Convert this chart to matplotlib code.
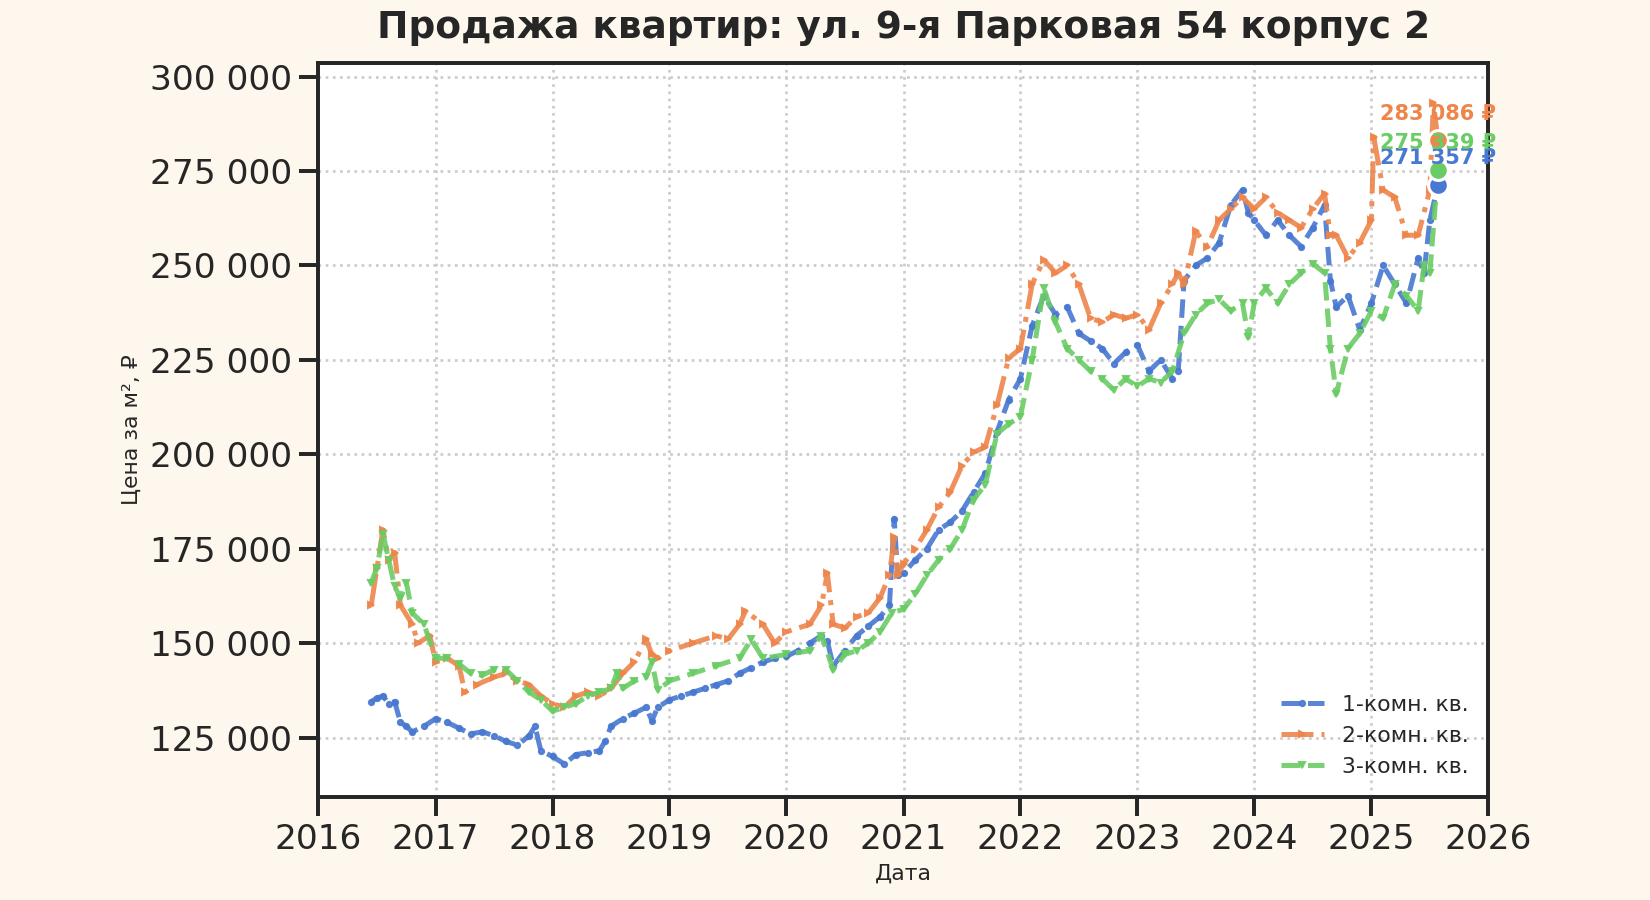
import numpy as np
import pandas as pd
import matplotlib
matplotlib.use("Agg")
import matplotlib.pyplot as plt
import matplotlib.ticker as mticker
import seaborn as sns

# ---------------- data (decimal years, price per m2) ----------------
t1 = [2016.45, 2016.50, 2016.55, 2016.60, 2016.65, 2016.70, 2016.75, 2016.80, 2016.90, 2017.00,
      2017.10, 2017.20, 2017.30, 2017.40, 2017.50, 2017.60, 2017.70, 2017.80, 2017.85, 2017.90,
      2018.00, 2018.10, 2018.20, 2018.30, 2018.40, 2018.45, 2018.50, 2018.60, 2018.70, 2018.80,
      2018.85, 2018.90, 2019.00, 2019.10, 2019.20, 2019.30, 2019.40, 2019.50, 2019.60, 2019.70,
      2019.80, 2019.90, 2020.00, 2020.10, 2020.20, 2020.30, 2020.35, 2020.40, 2020.50, 2020.60,
      2020.70, 2020.80, 2020.88, 2020.92, 2020.95, 2021.00, 2021.10, 2021.20, 2021.30, 2021.40,
      2021.50, 2021.60, 2021.70, 2021.80, 2021.90, 2022.00, 2022.10, 2022.20, 2022.30, 2022.40,
      2022.50, 2022.60, 2022.70, 2022.80, 2022.90, 2023.00, 2023.10, 2023.20, 2023.30, 2023.35,
      2023.40, 2023.50, 2023.60, 2023.70, 2023.80, 2023.90, 2023.95, 2024.00, 2024.10, 2024.20,
      2024.30, 2024.40, 2024.50, 2024.60, 2024.65, 2024.70, 2024.80, 2024.90, 2025.00, 2025.10,
      2025.20, 2025.30, 2025.40, 2025.45, 2025.50, 2025.57]
v1 = [134500, 135500, 136000, 134000, 134500, 129000, 128000, 126500, 128000, 130000,
      129000, 127500, 126000, 126500, 125500, 124000, 123000, 125500, 128000, 121500,
      120000, 118000, 120500, 121000, 121500, 124000, 128000, 130000, 131500, 133000,
      129500, 133000, 135000, 136000, 137000, 138000, 139000, 140000, 142000, 143500,
      145000, 146000, 146500, 148000, 150000, 152000, 150500, 144000, 148000, 152000,
      154500, 157000, 160000, 183000, 168000, 168500, 172000, 175000, 180000, 182000,
      185000, 190000, 195000, 206000, 214500, 220000, 234000, 242000, 237000, 239000,
      232000, 230000, 228000, 224000, 227000, 229000, 222000, 225000, 220000, 222000,
      246000, 250000, 252000, 256000, 266000, 270000, 264000, 262000, 258000, 262000,
      258000, 255000, 260000, 266000, 246000, 239000, 242000, 233000, 240000, 250000,
      245000, 240000, 252000, 248000, 262000, 271357]

t2 = [2016.45, 2016.50, 2016.55, 2016.60, 2016.65, 2016.70, 2016.80, 2016.85, 2016.95, 2017.00,
      2017.10, 2017.20, 2017.25, 2017.35, 2017.50, 2017.60, 2017.70, 2017.80, 2017.90, 2018.00,
      2018.10, 2018.20, 2018.30, 2018.40, 2018.50, 2018.60, 2018.70, 2018.80, 2018.85, 2018.90,
      2019.00, 2019.20, 2019.40, 2019.50, 2019.60, 2019.65, 2019.80, 2019.90, 2020.00, 2020.20,
      2020.30, 2020.35, 2020.40, 2020.50, 2020.60, 2020.70, 2020.80, 2020.88, 2020.92, 2020.95,
      2021.00, 2021.10, 2021.20, 2021.30, 2021.40, 2021.50, 2021.60, 2021.70, 2021.80, 2021.90,
      2022.00, 2022.10, 2022.20, 2022.30, 2022.40, 2022.50, 2022.60, 2022.70, 2022.80, 2022.90,
      2023.00, 2023.10, 2023.20, 2023.30, 2023.35, 2023.40, 2023.50, 2023.60, 2023.70, 2023.80,
      2023.90, 2024.00, 2024.10, 2024.20, 2024.30, 2024.40, 2024.50, 2024.60, 2024.65, 2024.70,
      2024.80, 2024.90, 2025.00, 2025.02, 2025.10, 2025.20, 2025.30, 2025.40, 2025.50, 2025.53,
      2025.57]
v2 = [160000, 170000, 180000, 172000, 174000, 160000, 155000, 150000, 152000, 145000,
      146000, 144000, 137000, 139000, 141000, 142000, 140000, 139000, 136000, 134000,
      133000, 136000, 137000, 136000, 138000, 142000, 145000, 151000, 147000, 146000,
      148000, 150000, 152000, 151000, 155000, 158500, 155000, 150000, 153000, 155000,
      160000, 168500, 155000, 154000, 157000, 158000, 162000, 168000, 178000, 168000,
      171000, 175000, 180000, 186000, 190000, 197000, 200500, 202000, 213000, 225500,
      228000, 245000, 251500, 248000, 250000, 245000, 236000, 235000, 237000, 236000,
      237000, 233000, 240000, 245000, 248000, 245000, 259000, 255000, 262000, 265000,
      268000, 265000, 268000, 264000, 262000, 260000, 265000, 269000, 258000, 258000,
      252000, 256000, 262000, 284000, 270000, 268000, 258000, 258000, 270000, 293000,
      283086]

t3 = [2016.45, 2016.50, 2016.55, 2016.60, 2016.65, 2016.70, 2016.75, 2016.80, 2016.90, 2017.00,
      2017.10, 2017.20, 2017.30, 2017.40, 2017.50, 2017.60, 2017.70, 2017.80, 2017.90, 2018.00,
      2018.10, 2018.20, 2018.30, 2018.40, 2018.50, 2018.55, 2018.60, 2018.70, 2018.80, 2018.85,
      2018.90, 2019.00, 2019.20, 2019.40, 2019.60, 2019.70, 2019.80, 2020.00, 2020.20, 2020.30,
      2020.40, 2020.50, 2020.60, 2020.70, 2020.80, 2020.90, 2021.00, 2021.10, 2021.20, 2021.30,
      2021.40, 2021.50, 2021.60, 2021.70, 2021.80, 2021.90, 2022.00, 2022.10, 2022.20, 2022.30,
      2022.40, 2022.50, 2022.60, 2022.70, 2022.80, 2022.90, 2023.00, 2023.10, 2023.20, 2023.30,
      2023.40, 2023.50, 2023.60, 2023.70, 2023.80, 2023.90, 2023.95, 2024.00, 2024.10, 2024.20,
      2024.30, 2024.40, 2024.50, 2024.60, 2024.65, 2024.70, 2024.80, 2024.90, 2025.00, 2025.10,
      2025.20, 2025.30, 2025.40, 2025.45, 2025.50, 2025.57]
v3 = [166000, 170000, 179000, 172000, 165000, 162000, 166000, 158000, 155000, 146000,
      146000, 144500, 142000, 141500, 143000, 143000, 140000, 137000, 135000, 132000,
      133000, 134000, 136000, 137000, 138000, 142000, 138000, 140000, 141000, 145000,
      137500, 140000, 142000, 144000, 146000, 151000, 146000, 147000, 148000, 152000,
      143000, 147000, 148000, 150000, 153000, 158000, 159000, 163000, 168000, 172000,
      175000, 180000, 188000, 192000, 205500, 208000, 210000, 225000, 244000, 235000,
      228000, 225000, 222000, 220000, 217000, 220000, 218000, 220000, 219000, 222000,
      232000, 237000, 240000, 241000, 238000, 240000, 231000, 240000, 244000, 240000,
      245000, 248000, 250500, 248000, 228000, 216000, 228000, 232000, 238000, 236000,
      245000, 242000, 238000, 250000, 248000, 275339]

labels = ["1-комн. кв.", "2-комн. кв.", "3-комн. кв."]
title = "Продажа квартир: ул. 9-я Парковая 54 корпус 2"
xlabel = "Дата"
ylabel = "Цена за м², ₽"
year_ticks = list(range(2016, 2027))
y_ticks = [125000, 150000, 175000, 200000, 225000, 250000, 275000, 300000]


def to_dates(ty):
    ty = np.asarray(ty, dtype=float)
    years = np.floor(ty).astype(int)
    frac = ty - years
    out = []
    for y, f in zip(years, frac):
        start = pd.Timestamp(year=int(y), month=1, day=1)
        end = pd.Timestamp(year=int(y) + 1, month=1, day=1)
        out.append(start + (end - start) * float(f))
    return pd.to_datetime(out)


# ---------------- style ----------------
sns.set_theme(style="ticks", context="talk")
plt.rcParams['font.family'] = ['DejaVu Sans']
pal = sns.color_palette("muted")
colors = [pal[0], pal[1], pal[2]]
bg = "#fef7ee"

fig = plt.figure(figsize=(11, 6), dpi=150, facecolor=bg)
ax = fig.add_axes([0.193, 0.115, 0.709, 0.815])
ax.set_facecolor("white")

series = [(t1, v1, "--", "o"), (t2, v2, "-.", ">"), (t3, v3, "--", "v")]
for (tt, vv, ls, mk), lab, c in zip(series, labels, colors):
    d = to_dates(tt)
    ax.plot(d, vv, linestyle=ls, marker=mk, markersize=2.5, linewidth=2.4,
            color=c, alpha=0.9, label=lab)
    ax.scatter([d[-1]], [vv[-1]], s=90, color=c, edgecolor="white",
               linewidth=1.5, zorder=10)
    txt = f"{vv[-1]:,}".replace(",", " ") + " ₽"
    ax.annotate(txt, (d[-1], vv[-1]), xytext=(0, 8), textcoords="offset points",
                ha="center", va="bottom", fontsize=10, fontweight="bold",
                color=c, zorder=11)

ax.set_xlim(pd.Timestamp("2016-01-01"), pd.Timestamp("2026-01-01"))
ax.set_ylim(109400, 303600)
ax.set_xticks([pd.Timestamp(year=y, month=1, day=1) for y in year_ticks])
ax.set_xticklabels([str(y) for y in year_ticks])
ax.set_yticks(y_ticks)
ax.yaxis.set_major_formatter(mticker.FuncFormatter(lambda v, p: f"{int(v):,}".replace(",", " ")))

ax.grid(True, linestyle=":", color="#cccccc", linewidth=1.3)
for s in ax.spines.values():
    s.set_visible(True)
    s.set_linewidth(1.9)
    s.set_color("#262626")
ax.tick_params(axis="both", length=9, width=1.9, labelsize=16.5, colors="#262626")

ax.set_title(title, fontsize=18, fontweight="bold", pad=12, color="#262626")
ax.set_xlabel(xlabel, fontsize=10.5, color="#262626")
ax.set_ylabel(ylabel, fontsize=10.5, color="#262626")

leg = ax.legend(loc="lower right", frameon=False, fontsize=10.5, numpoints=1)

fig.savefig("out.png", dpi=150, facecolor=bg)
